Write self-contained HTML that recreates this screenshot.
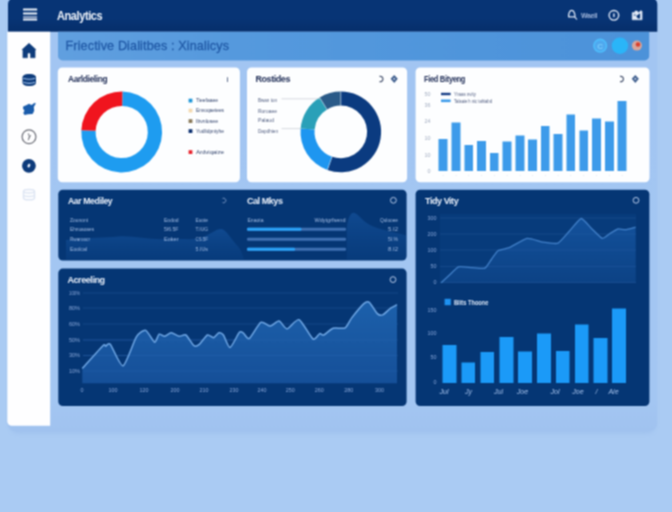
<!DOCTYPE html>
<html lang="en">
<head>
<meta charset="utf-8">
<title>Analytics</title>
<style>
html,body{margin:0;padding:0;}
body{width:672px;height:512px;overflow:hidden;background:#aacbf3;font-family:"Liberation Sans",sans-serif;position:relative;}
.abs{position:absolute;}
.wrap{display:contents;}
h1,h2,h3{margin:0;padding:0;}
.t{font-weight:700;font-size:9px;line-height:10px;white-space:nowrap;letter-spacing:-.44px;transform-origin:0 50%;}
.tw{color:#eaf0fa;}
.tb{color:#1d2b55;}
svg{position:absolute;left:0;top:0;overflow:visible;}
svg text{font-family:"Liberation Sans",sans-serif;}
</style>
</head>
<body>
<svg width="0" height="0" style="position:absolute" aria-hidden="true"><filter id="soft" x="0" y="0" width="100%" height="100%" color-interpolation-filters="sRGB"><feConvolveMatrix order="3" kernelMatrix="1 2 1 2 4 2 1 2 1" divisor="16" edgeMode="duplicate" preserveAlpha="true"/></filter></svg>
<div id="app" class="abs" style="left:-8px;top:-8px;width:688px;height:528px;background:#aacbf3;filter:url(#soft);">
<div id="page" class="abs" style="left:8px;top:8px;width:672px;height:512px;">
<svg class="bg" width="672" height="512" viewBox="0 0 672 512">
<defs>
<linearGradient id="gwin" x1="0" y1="0" x2="0" y2="1"><stop offset="0" stop-color="#a2c5f2"/><stop offset=".93" stop-color="#a3c6f2"/><stop offset="1" stop-color="#a0c2ef"/></linearGradient>
<linearGradient id="gnav" x1="0" y1="0" x2="0" y2="1"><stop offset="0" stop-color="#073475"/><stop offset=".6" stop-color="#073475"/><stop offset="1" stop-color="#062e6a"/></linearGradient>
<linearGradient id="gband" x1="0" y1="0" x2="1" y2="0"><stop offset="0" stop-color="#609fdf"/><stop offset=".3" stop-color="#5599dd"/><stop offset=".7" stop-color="#4f95db"/><stop offset="1" stop-color="#4c92d9"/></linearGradient>
<filter id="wsh" x="-5%" y="-5%" width="110%" height="110%"><feGaussianBlur stdDeviation="2.5"/></filter>
</defs>
<rect x="10" y="0" width="645" height="433" rx="8" fill="#78a0dc" opacity=".26" filter="url(#wsh)"/>
<rect x="7.5" y="-8" width="649.7" height="439.3" rx="8" fill="url(#gwin)"/>
<path d="M8 31.800V4a6 6 0 0 1 6-6h637.300a6 6 0 0 1 6 6v27.800z" fill="url(#gnav)"/>
<path d="M7.300 31.800h42.900v393.900h-38.400a4.500 4.500 0 0 1-4.500-4.500z" fill="#fefeff"/>
<path d="M58 31.800h591.200v24.100a4.500 4.500 0 0 1-4.500 4.500h-582.200a4.500 4.500 0 0 1-4.500-4.500z" fill="url(#gband)"/>
<rect x="57.8" y="67.5" width="182.1" height="114.8" rx="4.5" fill="#fdfeff"/>
<rect x="247.0" y="67.5" width="160.1" height="114.8" rx="4.5" fill="#fdfeff"/>
<rect x="415.6" y="67.5" width="233.9" height="114.8" rx="4.5" fill="#fdfeff"/>
<rect x="58.3" y="189.7" width="348.3" height="70.9" rx="4.5" fill="#053674"/>
<rect x="58.3" y="268.6" width="348.3" height="137.4" rx="4.5" fill="#053674"/>
<rect x="415.6" y="189.7" width="233.8" height="216.3" rx="4.5" fill="#053674"/>
</svg>
<header class="wrap">
<h1 class="abs" style="left:56.8px;top:8.7px;font-size:13.5px;line-height:14px;font-weight:700;color:#eef3fa;letter-spacing:-.5px;transform:scaleX(.815);transform-origin:0 50%;white-space:nowrap;">Analytics</h1>
<span class="abs" style="left:581px;top:10.5px;font-size:7.6px;line-height:9px;font-weight:700;color:#9db3d8;letter-spacing:-.3px;transform:scaleX(.9);transform-origin:0 50%;">Waeil</span>
</header>
<main class="wrap">
<h2 class="abs" style="left:65.5px;top:38px;font-size:12.6px;line-height:16px;font-weight:400;color:#2059a6;letter-spacing:.13px;-webkit-text-stroke:.28px #2059a6;white-space:nowrap;">Friective Dialitbes : Xinalicys</h2>
<section class="wrap"><h3 class="abs t tb" style="left:68px;top:73.5px;letter-spacing:-.4px;transform:scaleX(.93);">Aarldieling</h3></section>
<section class="wrap"><h3 class="abs t tb" style="left:255.5px;top:73.5px;">Rostides</h3></section>
<section class="wrap"><h3 class="abs t tb" style="left:423.5px;top:73.5px;letter-spacing:-.4px;transform:scaleX(.835);">Fied Bityeng</h3></section>
<section class="wrap"><h3 class="abs t tw" style="left:67.7px;top:196px;letter-spacing:-.4px;transform:scaleX(.96);">Aar Mediley</h3>
<h3 class="abs t tw" style="left:247px;top:196px;">Cal Mkys</h3></section>
<section class="wrap"><h3 class="abs t tw" style="left:425px;top:196px;">Tidy Vity</h3></section>
<section class="wrap"><h3 class="abs t tw" style="left:67.5px;top:275px;">Acreeling</h3></section>
</main>
<svg width="672" height="512" viewBox="0 0 672 512">
<!-- nav icons -->
<g fill="#eef3fb">
<rect x="23" y="8.500" width="14.200" height="2" rx=".6"/><rect x="23" y="12.400" width="14.200" height="2" rx=".6"/><rect x="23" y="16.100" width="14.200" height="2.300" rx=".6" opacity=".55"/><rect x="23" y="18.700" width="14.200" height="1.800" rx=".6"/>
</g>
<g fill="none" stroke="#dbe5f5" stroke-width="1.300" stroke-linejoin="round" stroke-linecap="round">
<path d="M568.700 16.900c-.4-3.300.9-6.500 3-6.500c2.200 0 3.400 3.200 3.300 6.500z"/>
<path d="M575 17.400l1.700 1.700" stroke-width="1.100"/>
<circle cx="613.900" cy="15.300" r="4.800" stroke-width="1.400"/>
</g>
<rect x="613.100" y="13.300" width="1.600" height="4" rx=".8" fill="#c9d8f0"/>
<path d="M632.200 12.600h2.700v-1.600h2.400l1.100 1.800l2.700-2.300l1 1v8.300h-9.900z" fill="#e2eaf7" stroke="#e2eaf7" stroke-width=".5" stroke-linejoin="round"/>
<path d="M636.200 15.900l3.900-2.700v5.300h-2.300z" fill="#073475"/>
<path d="M633.700 14.300h2v1.500h-2z" fill="#073475" opacity=".6"/>
<!-- band circles -->
<circle cx="600.2" cy="45.700" r="6.300" fill="#4fa8ee" stroke="#4dbdfc" stroke-width="1.6"/>
<text x="600.2" y="48.500" font-size="8" fill="#7ccdfb" text-anchor="middle" font-weight="700">C</text>
<circle cx="619.9" cy="45.700" r="8.200" fill="#2ab5f8"/>
<circle cx="636.9" cy="45.600" r="5" fill="#d7a69c"/>
<circle cx="638" cy="44.500" r="2.300" fill="#d8402e"/>
<!-- sidebar icons -->
<path d="M29 43.300l6.900 6.300l-.8.900v7.300h-4.600v-3.600a1.500 1.500 0 0 0-3 0v3.600h-4.600v-7.300l-.8-.9z" fill="#0d3b7b" stroke="#0d3b7b" stroke-width=".5" stroke-linejoin="round"/>
<rect x="22.500" y="74" width="13.500" height="12" rx="5.500" ry="3.200" fill="#0d3b7b"/><path d="M23.300 78.200q5.900 2.200 11.900 0M23.300 82.300q5.900 2.200 11.900 0" fill="none" stroke="#9ec0ec" stroke-width="1.100"/>
<path d="M23.200 106.500l3.500-1.500l2.300-1.200l2.500 1.300l3.300-2.400l1 .8l-2 3.500l.4 3.700l-1.600 3.300l-4.500.3l-3.600.800l-1.200-2l1.200-2.400l-1.500-2.200z" fill="#1a5cab"/>
<circle cx="29" cy="136.800" r="6.900" fill="none" stroke="#6d6f78" stroke-width="1.200"/>
<path d="M28.300 133.400l1.200 3.600l-1.300 3.200M30.600 135.200l-1.800 3" fill="none" stroke="#6d6f78" stroke-width="1"/>
<circle cx="28.900" cy="165.800" r="6.900" fill="#0d3b7b"/>
<ellipse cx="28.900" cy="165.600" rx="1.300" ry="2" fill="#e6eefb" transform="rotate(25 28.900 165.600)"/>
<g fill="none" stroke="#dde5f3" stroke-width="1.500"><ellipse cx="29" cy="191.300" rx="5.500" ry="1.700"/><path d="M23.500 191.500v6.500c0 1 2.500 1.800 5.500 1.800s5.500-.8 5.500-1.800v-6.500M23.500 194.800c0 1 2.500 1.700 5.500 1.700s5.500-.7 5.500-1.700"/></g>
<defs><linearGradient id="gc" x1="0" y1="0" x2="0" y2="1"><stop offset="0" stop-color="#1a5cab" stop-opacity=".5"/><stop offset="1" stop-color="#14539f" stop-opacity=".18"/></linearGradient></defs>
<path d="M122.41 91.61A40.4 40.4 0 1 1 81.34 130.24L95.62 130.86A26.1 26.1 0 1 0 122.16 105.90Z" fill="#1e9cf0"/>
<path d="M81.34 130.24A40.4 40.4 0 0 1 122.41 91.61L122.16 105.90A26.1 26.1 0 0 0 95.62 130.86Z" fill="#f0141e"/>
<rect x="188.6" y="98.7" width="3.8" height="3.8" fill="#1e96d8"/>
<text x="196" y="102.4" font-size="5.6" fill="#35466f" font-weight="400" text-anchor="start" opacity="1" textLength="22" lengthAdjust="spacingAndGlyphs">Tieefaaee</text>
<rect x="188.6" y="108.7" width="3.8" height="3.8" fill="#f3d9b0"/>
<text x="196" y="112.4" font-size="5.6" fill="#35466f" font-weight="400" text-anchor="start" opacity="1" textLength="28" lengthAdjust="spacingAndGlyphs">Envoqaetees</text>
<rect x="188.6" y="119.2" width="3.8" height="3.8" fill="#8a7a5a"/>
<text x="196" y="122.9" font-size="5.6" fill="#35466f" font-weight="400" text-anchor="start" opacity="1" textLength="22" lengthAdjust="spacingAndGlyphs">Ibvnlosee</text>
<rect x="188.6" y="129.2" width="3.8" height="3.8" fill="#0c3070"/>
<text x="196" y="132.9" font-size="5.6" fill="#35466f" font-weight="400" text-anchor="start" opacity="1" textLength="28" lengthAdjust="spacingAndGlyphs">Yudlidpniyhe</text>
<rect x="188.6" y="150.2" width="3.8" height="3.8" fill="#e8242e"/>
<text x="196" y="153.9" font-size="5.6" fill="#35466f" font-weight="400" text-anchor="start" opacity="1" textLength="28" lengthAdjust="spacingAndGlyphs">Ardviqaize</text>
<text x="226.5" y="81.5" font-size="7" fill="#5a6a8a" font-weight="700" text-anchor="start" opacity="1" >i</text>
<path d="M340.80 91.60A40.3 40.3 0 1 1 327.41 169.91L332.06 156.71A26.3 26.3 0 1 0 340.80 105.60Z" fill="#0b3b80"/>
<path d="M327.41 169.91A40.3 40.3 0 0 1 300.65 128.39L314.60 129.61A26.3 26.3 0 0 0 332.06 156.71Z" fill="#1e96f0"/>
<path d="M300.65 128.39A40.3 40.3 0 0 1 319.68 97.58L327.02 109.50A26.3 26.3 0 0 0 314.60 129.61Z" fill="#2aa0b8"/>
<path d="M319.68 97.58A40.3 40.3 0 0 1 340.80 91.60L340.80 105.60A26.3 26.3 0 0 0 327.02 109.50Z" fill="#2a5a88"/>
<line x1="340.80" y1="105.60" x2="340.80" y2="91.60" stroke="#cfe4f6" stroke-width="0.7" opacity="0.8"/>
<line x1="332.06" y1="156.71" x2="327.41" y2="169.91" stroke="#cfe4f6" stroke-width="0.7" opacity="0.8"/>
<line x1="327.02" y1="109.50" x2="319.68" y2="97.58" stroke="#cfe4f6" stroke-width="0.7" opacity="0.8"/>
<line x1="281.5" y1="98.8" x2="320" y2="98.8" stroke="#c6cbd2" stroke-width="0.7"/>
<line x1="281.5" y1="128.6" x2="301" y2="128.6" stroke="#c6cbd2" stroke-width="0.7"/>
<text x="258" y="101.5" font-size="5.6" fill="#525f82" font-weight="400" text-anchor="start" opacity="1" textLength="19" lengthAdjust="spacingAndGlyphs">Bwan ton</text>
<text x="258" y="112.5" font-size="5.6" fill="#525f82" font-weight="400" text-anchor="start" opacity="1" textLength="19" lengthAdjust="spacingAndGlyphs">Roroaee</text>
<text x="258" y="122.4" font-size="5.6" fill="#525f82" font-weight="400" text-anchor="start" opacity="1" textLength="16" lengthAdjust="spacingAndGlyphs">Palaud</text>
<text x="258" y="132.9" font-size="5.6" fill="#525f82" font-weight="400" text-anchor="start" opacity="1" textLength="20" lengthAdjust="spacingAndGlyphs">Dapdhien</text>
<path d="M379.5 76.4a2.7 2.7 0 1 1 0 5.2" fill="none" stroke="#44506c" stroke-width="1.2"/>
<path d="M394.2 75l3.6 3.8l-3.6 4.2l-3.6-4.2z" fill="#41608f"/><circle cx="394.2" cy="78.8" r="0.9" fill="#dfe8f6"/>
<path d="M620 76.4a2.7 2.7 0 1 1 0 5.2" fill="none" stroke="#44506c" stroke-width="1.2"/>
<path d="M635.3 75l3.6 3.8l-3.6 4.2l-3.6-4.2z" fill="#41608f"/><circle cx="635.3" cy="78.8" r="0.9" fill="#dfe8f6"/>
<rect x="438.5" y="139" width="9.0" height="32" fill="#3d9bea"/>
<text x="443.0" y="176.5" font-size="5" fill="#9aa8c0" font-weight="400" text-anchor="middle" opacity="1" >·</text>
<rect x="451.5" y="122.5" width="9.0" height="48.5" fill="#3d9bea"/>
<text x="456.0" y="176.5" font-size="5" fill="#9aa8c0" font-weight="400" text-anchor="middle" opacity="1" >·</text>
<rect x="464.5" y="145" width="8.5" height="26" fill="#3d9bea"/>
<text x="468.75" y="176.5" font-size="5" fill="#9aa8c0" font-weight="400" text-anchor="middle" opacity="1" >·</text>
<rect x="477" y="141" width="9" height="30" fill="#3d9bea"/>
<text x="481.5" y="176.5" font-size="5" fill="#9aa8c0" font-weight="400" text-anchor="middle" opacity="1" >·</text>
<rect x="490" y="153" width="8.5" height="18" fill="#3d9bea"/>
<text x="494.25" y="176.5" font-size="5" fill="#9aa8c0" font-weight="400" text-anchor="middle" opacity="1" >·</text>
<rect x="502.5" y="141.5" width="9.0" height="29.5" fill="#3d9bea"/>
<text x="507.0" y="176.5" font-size="5" fill="#9aa8c0" font-weight="400" text-anchor="middle" opacity="1" >·</text>
<rect x="515.5" y="135.5" width="9.0" height="35.5" fill="#3d9bea"/>
<text x="520.0" y="176.5" font-size="5" fill="#9aa8c0" font-weight="400" text-anchor="middle" opacity="1" >·</text>
<rect x="528" y="139.5" width="9" height="31.5" fill="#3d9bea"/>
<text x="532.5" y="176.5" font-size="5" fill="#9aa8c0" font-weight="400" text-anchor="middle" opacity="1" >·</text>
<rect x="541" y="126" width="8.5" height="45" fill="#3d9bea"/>
<text x="545.25" y="176.5" font-size="5" fill="#9aa8c0" font-weight="400" text-anchor="middle" opacity="1" >·</text>
<rect x="553.5" y="134" width="9.0" height="37" fill="#3d9bea"/>
<text x="558.0" y="176.5" font-size="5" fill="#9aa8c0" font-weight="400" text-anchor="middle" opacity="1" >·</text>
<rect x="566.5" y="114.5" width="8.5" height="56.5" fill="#3d9bea"/>
<text x="570.75" y="176.5" font-size="5" fill="#9aa8c0" font-weight="400" text-anchor="middle" opacity="1" >·</text>
<rect x="579.5" y="130.5" width="8.5" height="40.5" fill="#3d9bea"/>
<text x="583.75" y="176.5" font-size="5" fill="#9aa8c0" font-weight="400" text-anchor="middle" opacity="1" >·</text>
<rect x="592" y="118.5" width="9" height="52.5" fill="#3d9bea"/>
<text x="596.5" y="176.5" font-size="5" fill="#9aa8c0" font-weight="400" text-anchor="middle" opacity="1" >·</text>
<rect x="605" y="121.5" width="9" height="49.5" fill="#3d9bea"/>
<text x="609.5" y="176.5" font-size="5" fill="#9aa8c0" font-weight="400" text-anchor="middle" opacity="1" >·</text>
<rect x="617.5" y="101" width="9.0" height="70" fill="#3d9bea"/>
<text x="622.0" y="176.5" font-size="5" fill="#9aa8c0" font-weight="400" text-anchor="middle" opacity="1" >·</text>
<text x="430.5" y="95.9" font-size="5.4" fill="#a2acc0" font-weight="400" text-anchor="end" opacity="1" >50</text>
<text x="430.5" y="106.9" font-size="5.4" fill="#a2acc0" font-weight="400" text-anchor="end" opacity="1" >36</text>
<text x="430.5" y="122.9" font-size="5.4" fill="#a2acc0" font-weight="400" text-anchor="end" opacity="1" >24</text>
<text x="430.5" y="139.9" font-size="5.4" fill="#a2acc0" font-weight="400" text-anchor="end" opacity="1" >10</text>
<text x="430.5" y="156.9" font-size="5.4" fill="#a2acc0" font-weight="400" text-anchor="end" opacity="1" >10</text>
<text x="430.5" y="172.9" font-size="5.4" fill="#a2acc0" font-weight="400" text-anchor="end" opacity="1" >0</text>
<rect x="441" y="92.8" width="9.6" height="2.4" fill="#143c84"/>
<rect x="441" y="99.5" width="9.6" height="2.6" fill="#3d9bea"/>
<text x="454" y="95.8" font-size="5.4" fill="#525f82" font-weight="400" text-anchor="start" opacity="1" textLength="22" lengthAdjust="spacingAndGlyphs">Yraas nvity</text>
<text x="454" y="102.6" font-size="5.4" fill="#525f82" font-weight="400" text-anchor="start" opacity="1" textLength="38" lengthAdjust="spacingAndGlyphs">Talaaie h nic  tahiabd</text>
<path d="M66 240 C90 237 105 238 118 236.5 S150 240 165 239 S194 241 203 237 S215 230 220 229 S229 236 235 243 S241 250 244 259.5 L66 259.5Z" fill="url(#gc)"/>
<text x="70" y="221.6" font-size="5.4" fill="#a2bbe2" font-weight="400" text-anchor="start" opacity="1" textLength="18" lengthAdjust="spacingAndGlyphs">Zounont</text>
<text x="70" y="231.1" font-size="5.4" fill="#a2bbe2" font-weight="400" text-anchor="start" opacity="1" textLength="24" lengthAdjust="spacingAndGlyphs">Ehnuaoaes</text>
<text x="70" y="241.1" font-size="5.4" fill="#a2bbe2" font-weight="400" text-anchor="start" opacity="1" textLength="20" lengthAdjust="spacingAndGlyphs">Rwaroocr</text>
<text x="70" y="251.1" font-size="5.4" fill="#a2bbe2" font-weight="400" text-anchor="start" opacity="1" textLength="17" lengthAdjust="spacingAndGlyphs">Eoolcal</text>
<text x="164" y="221.6" font-size="5.4" fill="#a2bbe2" font-weight="400" text-anchor="start" opacity="1" textLength="14.5" lengthAdjust="spacingAndGlyphs">Eodod</text>
<text x="164" y="231.1" font-size="5.4" fill="#a2bbe2" font-weight="400" text-anchor="start" opacity="1" textLength="14.5" lengthAdjust="spacingAndGlyphs">5I6.5F</text>
<text x="164" y="241.1" font-size="5.4" fill="#a2bbe2" font-weight="400" text-anchor="start" opacity="1" textLength="14.5" lengthAdjust="spacingAndGlyphs">Eoker</text>
<text x="195.5" y="221.6" font-size="5.4" fill="#a2bbe2" font-weight="400" text-anchor="start" opacity="1" textLength="12.5" lengthAdjust="spacingAndGlyphs">Euote</text>
<text x="195.5" y="231.1" font-size="5.4" fill="#a2bbe2" font-weight="400" text-anchor="start" opacity="1" textLength="12.5" lengthAdjust="spacingAndGlyphs">T.IUG</text>
<text x="195.5" y="241.1" font-size="5.4" fill="#a2bbe2" font-weight="400" text-anchor="start" opacity="1" textLength="12.5" lengthAdjust="spacingAndGlyphs">CS.5F</text>
<text x="195.5" y="251.1" font-size="5.4" fill="#a2bbe2" font-weight="400" text-anchor="start" opacity="1" textLength="12.5" lengthAdjust="spacingAndGlyphs">5.IUs</text>
<path d="M222.6 198.4a2.3 2.3 0 1 1 0 4.2" fill="none" stroke="#7f9cc8" stroke-width="1"/>
<path d="M346.8 228 C348 217 351 212.8 353.5 212.8 C358 213.3 362 221 370 225 S390 231.5 401 234 L406.2 235.5 L406.2 259.5 L346.8 259.5Z" fill="url(#gc)"/>
<text x="247.5" y="221.6" font-size="5.4" fill="#a2bbe2" font-weight="400" text-anchor="start" opacity="1" textLength="16" lengthAdjust="spacingAndGlyphs">Enaota</text>
<text x="345.5" y="221.6" font-size="5.4" fill="#a2bbe2" font-weight="400" text-anchor="end" opacity="1" textLength="31" lengthAdjust="spacingAndGlyphs">Wdytgrfsend</text>
<rect x="247" y="227.7" width="99" height="3" rx="1.2" fill="#3f70b2"/>
<rect x="247" y="227.7" width="54.39999999999998" height="3" rx="1.2" fill="#2aa2f8"/>
<rect x="247" y="237.7" width="99" height="3" rx="1.2" fill="#3f70b2"/>
<rect x="247" y="247.7" width="99" height="3" rx="1.2" fill="#3f70b2"/>
<rect x="247" y="247.7" width="48" height="3" rx="1.2" fill="#2aa2f8"/>
<text x="398" y="221.6" font-size="5.4" fill="#a2bbe2" font-weight="400" text-anchor="end" opacity="1" textLength="18" lengthAdjust="spacingAndGlyphs">Qulooee</text>
<text x="398" y="231.1" font-size="5.4" fill="#a2bbe2" font-weight="400" text-anchor="end" opacity="1" textLength="10" lengthAdjust="spacingAndGlyphs">5.I2</text>
<text x="398" y="241.1" font-size="5.4" fill="#a2bbe2" font-weight="400" text-anchor="end" opacity="1" textLength="10" lengthAdjust="spacingAndGlyphs">5I.%</text>
<text x="398" y="251.1" font-size="5.4" fill="#a2bbe2" font-weight="400" text-anchor="end" opacity="1" textLength="10" lengthAdjust="spacingAndGlyphs">8.I2</text>
<circle cx="393.4" cy="200.3" r="2.9" fill="none" stroke="#b4c7e6" stroke-width="1"/>
<line x1="83" y1="293" x2="398" y2="293" stroke="#2a5aa0" stroke-width="0.6" opacity="0.75"/>
<text x="80" y="294.9" font-size="5.4" fill="#88a6d8" font-weight="400" text-anchor="end" opacity="1" textLength="11" lengthAdjust="spacingAndGlyphs">100%</text>
<line x1="83" y1="308" x2="398" y2="308" stroke="#2a5aa0" stroke-width="0.6" opacity="0.75"/>
<text x="80" y="309.9" font-size="5.4" fill="#88a6d8" font-weight="400" text-anchor="end" opacity="1" textLength="11" lengthAdjust="spacingAndGlyphs">80%</text>
<line x1="83" y1="324" x2="398" y2="324" stroke="#2a5aa0" stroke-width="0.6" opacity="0.75"/>
<text x="80" y="325.9" font-size="5.4" fill="#88a6d8" font-weight="400" text-anchor="end" opacity="1" textLength="11" lengthAdjust="spacingAndGlyphs">60%</text>
<line x1="83" y1="340" x2="398" y2="340" stroke="#2a5aa0" stroke-width="0.6" opacity="0.75"/>
<text x="80" y="341.9" font-size="5.4" fill="#88a6d8" font-weight="400" text-anchor="end" opacity="1" textLength="11" lengthAdjust="spacingAndGlyphs">50%</text>
<line x1="83" y1="355.5" x2="398" y2="355.5" stroke="#2a5aa0" stroke-width="0.6" opacity="0.75"/>
<text x="80" y="357.4" font-size="5.4" fill="#88a6d8" font-weight="400" text-anchor="end" opacity="1" textLength="11" lengthAdjust="spacingAndGlyphs">30%</text>
<line x1="83" y1="371" x2="398" y2="371" stroke="#2a5aa0" stroke-width="0.6" opacity="0.75"/>
<text x="80" y="372.9" font-size="5.4" fill="#88a6d8" font-weight="400" text-anchor="end" opacity="1" textLength="11" lengthAdjust="spacingAndGlyphs">10%</text>
<defs><linearGradient id="ga" x1="0" y1="0" x2="0" y2="1"><stop offset="0" stop-color="#1c60ab"/><stop offset="1" stop-color="#154f98"/></linearGradient><linearGradient id="gb" x1="0" y1="0" x2="0" y2="1"><stop offset="0" stop-color="#13519b"/><stop offset="1" stop-color="#0c4285"/></linearGradient></defs>
<path d="M82.3 368.5C84.6 366.0 100.3 348.2 102.9 345.7C105.5 343.2 104.8 346.3 105.6 346.2C106.4 346.1 108.5 342.2 110.4 344.4C112.3 346.6 120.1 366.6 123.0 365.8C125.9 365.0 133.9 340.8 136.4 336.9C138.9 333.0 143.7 329.8 145.7 330.4C147.7 331.0 153.1 341.8 154.6 342.2C156.1 342.6 158.0 334.8 159.1 334.2C160.2 333.6 163.2 336.5 164.5 336.3C165.8 336.1 169.6 332.8 171.2 332.8C172.8 332.8 177.6 336.1 179.2 336.3C180.8 336.5 184.3 334.0 185.9 335.0C187.5 336.0 192.5 344.7 194.0 345.7C195.5 346.7 197.8 345.6 199.3 344.4C200.8 343.2 205.8 335.7 207.4 335.0C209.0 334.3 212.2 337.9 213.5 337.7C214.8 337.5 217.8 333.1 218.9 332.8C220.0 332.5 222.2 333.4 223.4 335.0C224.6 336.6 228.2 347.9 230.0 347.6C231.8 347.3 237.9 333.9 239.4 332.3C240.9 330.7 242.3 332.4 243.4 333.1C244.5 333.8 247.4 339.7 249.3 338.5C251.2 337.3 258.5 323.8 260.8 322.4C263.1 321.0 268.2 326.2 270.2 326.1C272.2 326.0 277.1 320.8 279.0 321.1C280.9 321.4 284.9 329.0 287.1 328.8C289.3 328.6 296.3 318.6 299.1 319.7C301.9 320.8 310.7 337.5 313.0 339.0C315.3 340.5 318.5 334.0 319.7 333.6C320.9 333.2 322.3 335.6 323.8 335.0C325.3 334.4 330.7 329.1 333.1 328.3C335.5 327.5 343.1 329.0 345.2 327.8C347.3 326.6 349.8 320.3 351.9 317.6C354.0 314.9 362.0 305.3 363.9 303.6C365.8 301.9 367.8 301.2 369.3 302.3C370.8 303.4 375.8 312.2 377.3 313.6C378.8 315.0 381.2 315.5 382.7 314.9C384.2 314.3 389.1 309.3 390.7 308.2C392.3 307.1 396.3 305.1 397.0 304.7L397 383.3L82.3 383.3Z" fill="url(#ga)"/>
<line x1="83" y1="340" x2="396" y2="340" stroke="#2f6cb8" stroke-width="0.6" opacity="0.5"/>
<line x1="83" y1="355.5" x2="396" y2="355.5" stroke="#2f6cb8" stroke-width="0.6" opacity="0.5"/>
<line x1="83" y1="371" x2="396" y2="371" stroke="#2f6cb8" stroke-width="0.6" opacity="0.5"/>
<path d="M82.3 368.5C84.6 366.0 100.3 348.2 102.9 345.7C105.5 343.2 104.8 346.3 105.6 346.2C106.4 346.1 108.5 342.2 110.4 344.4C112.3 346.6 120.1 366.6 123.0 365.8C125.9 365.0 133.9 340.8 136.4 336.9C138.9 333.0 143.7 329.8 145.7 330.4C147.7 331.0 153.1 341.8 154.6 342.2C156.1 342.6 158.0 334.8 159.1 334.2C160.2 333.6 163.2 336.5 164.5 336.3C165.8 336.1 169.6 332.8 171.2 332.8C172.8 332.8 177.6 336.1 179.2 336.3C180.8 336.5 184.3 334.0 185.9 335.0C187.5 336.0 192.5 344.7 194.0 345.7C195.5 346.7 197.8 345.6 199.3 344.4C200.8 343.2 205.8 335.7 207.4 335.0C209.0 334.3 212.2 337.9 213.5 337.7C214.8 337.5 217.8 333.1 218.9 332.8C220.0 332.5 222.2 333.4 223.4 335.0C224.6 336.6 228.2 347.9 230.0 347.6C231.8 347.3 237.9 333.9 239.4 332.3C240.9 330.7 242.3 332.4 243.4 333.1C244.5 333.8 247.4 339.7 249.3 338.5C251.2 337.3 258.5 323.8 260.8 322.4C263.1 321.0 268.2 326.2 270.2 326.1C272.2 326.0 277.1 320.8 279.0 321.1C280.9 321.4 284.9 329.0 287.1 328.8C289.3 328.6 296.3 318.6 299.1 319.7C301.9 320.8 310.7 337.5 313.0 339.0C315.3 340.5 318.5 334.0 319.7 333.6C320.9 333.2 322.3 335.6 323.8 335.0C325.3 334.4 330.7 329.1 333.1 328.3C335.5 327.5 343.1 329.0 345.2 327.8C347.3 326.6 349.8 320.3 351.9 317.6C354.0 314.9 362.0 305.3 363.9 303.6C365.8 301.9 367.8 301.2 369.3 302.3C370.8 303.4 375.8 312.2 377.3 313.6C378.8 315.0 381.2 315.5 382.7 314.9C384.2 314.3 389.1 309.3 390.7 308.2C392.3 307.1 396.3 305.1 397.0 304.7" fill="none" stroke="#70a8e6" stroke-width="1.5" stroke-linejoin="round"/>
<text x="82" y="391.8" font-size="5.4" fill="#88a6d8" font-weight="400" text-anchor="middle" opacity="1" >0</text>
<text x="113" y="391.8" font-size="5.4" fill="#88a6d8" font-weight="400" text-anchor="middle" opacity="1" >100</text>
<text x="144" y="391.8" font-size="5.4" fill="#88a6d8" font-weight="400" text-anchor="middle" opacity="1" >120</text>
<text x="175" y="391.8" font-size="5.4" fill="#88a6d8" font-weight="400" text-anchor="middle" opacity="1" >200</text>
<text x="204" y="391.8" font-size="5.4" fill="#88a6d8" font-weight="400" text-anchor="middle" opacity="1" >210</text>
<text x="234" y="391.8" font-size="5.4" fill="#88a6d8" font-weight="400" text-anchor="middle" opacity="1" >230</text>
<text x="262" y="391.8" font-size="5.4" fill="#88a6d8" font-weight="400" text-anchor="middle" opacity="1" >240</text>
<text x="290.3" y="391.8" font-size="5.4" fill="#88a6d8" font-weight="400" text-anchor="middle" opacity="1" >250</text>
<text x="319.2" y="391.8" font-size="5.4" fill="#88a6d8" font-weight="400" text-anchor="middle" opacity="1" >260</text>
<text x="348.7" y="391.8" font-size="5.4" fill="#88a6d8" font-weight="400" text-anchor="middle" opacity="1" >280</text>
<text x="379.5" y="391.8" font-size="5.4" fill="#88a6d8" font-weight="400" text-anchor="middle" opacity="1" >300</text>
<circle cx="393" cy="279.6" r="2.9" fill="none" stroke="#b4c7e6" stroke-width="1"/>
<rect x="440" y="214" width="196" height="69" fill="#1a5aa8" opacity=".13"/>
<path d="M441.0 282.8C441.7 282.2 448.1 276.3 449.5 275.0C450.9 273.7 456.8 267.4 458.6 266.8C460.4 266.2 469.9 267.5 472.0 267.6C474.1 267.7 483.4 268.8 484.9 268.2C486.4 267.6 490.0 261.4 491.0 260.0C492.0 258.6 496.5 251.7 498.0 250.7C499.5 249.7 506.9 248.7 509.2 247.7C511.5 246.7 524.5 238.8 527.2 238.4C529.9 238.0 540.5 241.7 543.0 242.1C545.5 242.5 555.9 244.1 558.0 243.2C560.1 242.3 567.6 233.0 569.5 231.0C571.4 229.0 579.4 218.7 581.2 218.5C583.0 218.3 589.8 226.9 591.5 228.5C593.2 230.1 600.7 238.0 602.2 238.4C603.7 238.8 608.7 234.3 610.0 233.5C611.3 232.7 616.8 229.3 618.0 229.0C619.2 228.7 624.1 229.9 625.5 229.7C626.9 229.5 634.8 227.3 635.6 227.1L635.6 282.8L441 282.8Z" fill="url(#gb)"/>
<line x1="440" y1="218" x2="636" y2="218" stroke="#2d5fa6" stroke-width="0.6" opacity="0.6"/>
<text x="436.5" y="219.9" font-size="5.4" fill="#88a6d8" font-weight="400" text-anchor="end" opacity="1" >300</text>
<line x1="440" y1="234" x2="636" y2="234" stroke="#2d5fa6" stroke-width="0.6" opacity="0.6"/>
<text x="436.5" y="235.9" font-size="5.4" fill="#88a6d8" font-weight="400" text-anchor="end" opacity="1" >200</text>
<line x1="440" y1="250" x2="636" y2="250" stroke="#2d5fa6" stroke-width="0.6" opacity="0.6"/>
<text x="436.5" y="251.9" font-size="5.4" fill="#88a6d8" font-weight="400" text-anchor="end" opacity="1" >100</text>
<line x1="440" y1="266.5" x2="636" y2="266.5" stroke="#2d5fa6" stroke-width="0.6" opacity="0.6"/>
<text x="436.5" y="268.4" font-size="5.4" fill="#88a6d8" font-weight="400" text-anchor="end" opacity="1" >50</text>
<line x1="440" y1="282.5" x2="636" y2="282.5" stroke="#2d5fa6" stroke-width="0.6" opacity="0.6"/>
<text x="436.5" y="284.4" font-size="5.4" fill="#88a6d8" font-weight="400" text-anchor="end" opacity="1" >0</text>
<path d="M441.0 282.8C441.7 282.2 448.1 276.3 449.5 275.0C450.9 273.7 456.8 267.4 458.6 266.8C460.4 266.2 469.9 267.5 472.0 267.6C474.1 267.7 483.4 268.8 484.9 268.2C486.4 267.6 490.0 261.4 491.0 260.0C492.0 258.6 496.5 251.7 498.0 250.7C499.5 249.7 506.9 248.7 509.2 247.7C511.5 246.7 524.5 238.8 527.2 238.4C529.9 238.0 540.5 241.7 543.0 242.1C545.5 242.5 555.9 244.1 558.0 243.2C560.1 242.3 567.6 233.0 569.5 231.0C571.4 229.0 579.4 218.7 581.2 218.5C583.0 218.3 589.8 226.9 591.5 228.5C593.2 230.1 600.7 238.0 602.2 238.4C603.7 238.8 608.7 234.3 610.0 233.5C611.3 232.7 616.8 229.3 618.0 229.0C619.2 228.7 624.1 229.9 625.5 229.7C626.9 229.5 634.8 227.3 635.6 227.1" fill="none" stroke="#4280c9" stroke-width="1.3" stroke-linejoin="round"/>
<circle cx="636" cy="200.3" r="2.9" fill="none" stroke="#b4c7e6" stroke-width="1"/>
<rect x="444.6" y="298.8" width="6.2" height="6.4" fill="#1e92f2"/>
<text x="454" y="304.6" font-size="6.6" fill="#dbe6f6" font-weight="700" text-anchor="start" opacity="1" textLength="34.5" lengthAdjust="spacingAndGlyphs">Blits Thoone</text>
<text x="436.5" y="312.4" font-size="5.4" fill="#88a6d8" font-weight="400" text-anchor="end" opacity="1" >150</text>
<text x="436.5" y="334.9" font-size="5.4" fill="#88a6d8" font-weight="400" text-anchor="end" opacity="1" >100</text>
<text x="436.5" y="358.9" font-size="5.4" fill="#88a6d8" font-weight="400" text-anchor="end" opacity="1" >50</text>
<text x="436.5" y="384.4" font-size="5.4" fill="#88a6d8" font-weight="400" text-anchor="end" opacity="1" >0</text>
<rect x="442.5" y="345" width="14.0" height="38" fill="#1b9af8"/>
<rect x="461.5" y="362.5" width="13.5" height="20.5" fill="#1b9af8"/>
<rect x="480.5" y="352" width="13.5" height="31" fill="#1b9af8"/>
<rect x="499.5" y="337" width="14.0" height="46" fill="#1b9af8"/>
<rect x="518" y="351.5" width="14" height="31.5" fill="#1b9af8"/>
<rect x="537" y="333.5" width="14" height="49.5" fill="#1b9af8"/>
<rect x="556" y="351" width="13.5" height="32" fill="#1b9af8"/>
<rect x="575" y="324.5" width="13.5" height="58.5" fill="#1b9af8"/>
<rect x="593.5" y="338" width="14.0" height="45" fill="#1b9af8"/>
<rect x="612" y="308.5" width="14" height="74.5" fill="#1b9af8"/>
<text x="444" y="393.8" font-size="7" fill="#a4c0ea" font-weight="400" text-anchor="middle" opacity="1" font-style="italic">Jul</text>
<text x="468.5" y="393.8" font-size="7" fill="#a4c0ea" font-weight="400" text-anchor="middle" opacity="1" font-style="italic">Jy</text>
<text x="498.5" y="393.8" font-size="7" fill="#a4c0ea" font-weight="400" text-anchor="middle" opacity="1" font-style="italic">Jul</text>
<text x="522.5" y="393.8" font-size="7" fill="#a4c0ea" font-weight="400" text-anchor="middle" opacity="1" font-style="italic">Joe</text>
<text x="555" y="393.8" font-size="7" fill="#a4c0ea" font-weight="400" text-anchor="middle" opacity="1" font-style="italic">Jol</text>
<text x="578" y="393.8" font-size="7" fill="#a4c0ea" font-weight="400" text-anchor="middle" opacity="1" font-style="italic">Joe</text>
<text x="596.5" y="393.8" font-size="7" fill="#a4c0ea" font-weight="400" text-anchor="middle" opacity="1" font-style="italic">/</text>
<text x="613.5" y="393.8" font-size="7" fill="#a4c0ea" font-weight="400" text-anchor="middle" opacity="1" font-style="italic">Aie</text>
</svg>
</div>
</div>
</body>
</html>
